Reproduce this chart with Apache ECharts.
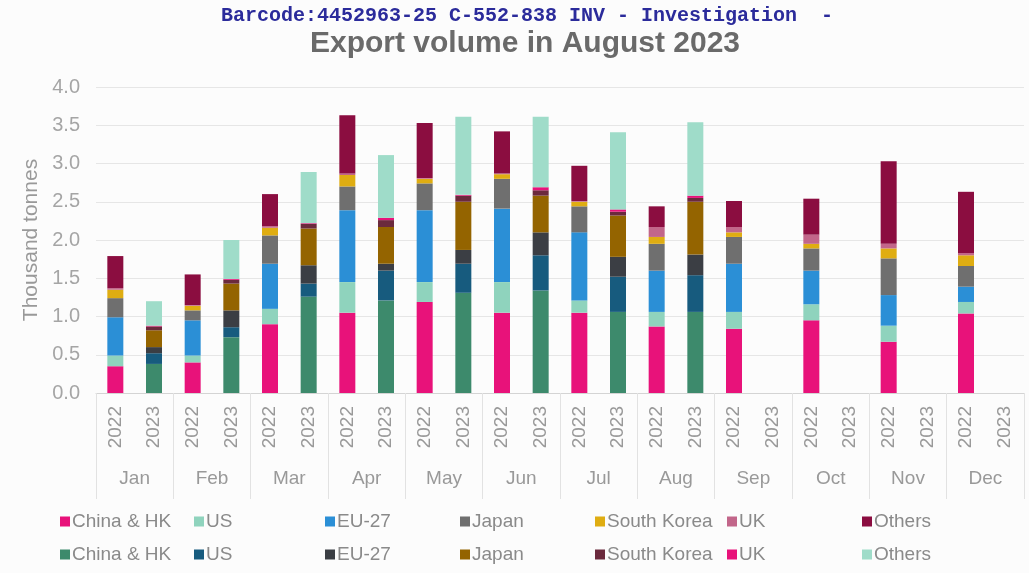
<!DOCTYPE html>
<html>
<head>
<meta charset="utf-8">
<title>Export volume in August 2023</title>
<script src="https://cdn.jsdelivr.net/npm/echarts@6/dist/echarts.min.js"></script>
<style>
    html, body { margin: 0; padding: 0; background: #fcfcfc; }
    #chart { width: 1029px; height: 573px; }
</style>
</head>
<body>
<div id="chart"></div>
<script>
var months = ['Jan', 'Feb', 'Mar', 'Apr', 'May', 'Jun', 'Jul', 'Aug', 'Sep', 'Oct', 'Nov', 'Dec']
var years = ['2022', '2023']
var countries = ['China & HK', 'US', 'EU-27', 'Japan', 'South Korea', 'UK', 'Others']
var yTicks = [0, 0.5, 1, 1.5, 2, 2.5, 3, 3.5, 4]

// thousand tonnes, one value per month
var china2022 = [0.35, 0.40, 0.90, 1.05, 1.19, 1.05, 1.05, 0.87, 0.84, 0.95, 0.67, 1.04]
var us2022 = [0.14, 0.09, 0.20, 0.40, 0.26, 0.40, 0.16, 0.19, 0.22, 0.21, 0.21, 0.15]
var eu2022 = [0.50, 0.46, 0.59, 0.94, 0.94, 0.96, 0.89, 0.54, 0.63, 0.44, 0.40, 0.20]
var japan2022 = [0.25, 0.13, 0.37, 0.31, 0.35, 0.39, 0.34, 0.35, 0.35, 0.29, 0.48, 0.27]
var korea2022 = [0.11, 0.06, 0.10, 0.15, 0.06, 0.06, 0.06, 0.09, 0.06, 0.06, 0.13, 0.14]
var uk2022 = [0.02, 0.01, 0.02, 0.02, 0.01, 0.01, 0.01, 0.13, 0.07, 0.12, 0.06, 0.03]
var others2022 = [0.42, 0.40, 0.42, 0.76, 0.72, 0.55, 0.46, 0.27, 0.34, 0.47, 1.08, 0.80]

var china2023 = [0.38, 0.73, 1.26, 1.21, 1.31, 1.34, 1.06, 1.06, null, null, null, null]
var us2023 = [0.14, 0.13, 0.17, 0.39, 0.38, 0.46, 0.46, 0.48, null, null, null, null]
var eu2023 = [0.08, 0.22, 0.24, 0.09, 0.18, 0.30, 0.26, 0.27, null, null, null, null]
var japan2023 = [0.22, 0.35, 0.48, 0.48, 0.63, 0.48, 0.54, 0.69, null, null, null, null]
var korea2023 = [0.05, 0.05, 0.06, 0.09, 0.08, 0.07, 0.05, 0.05, null, null, null, null]
var uk2023 = [0.01, 0.01, 0.01, 0.03, 0.01, 0.04, 0.03, 0.03, null, null, null, null]
var others2023 = [0.32, 0.51, 0.67, 0.82, 1.02, 0.92, 1.01, 0.96, null, null, null, null]

var values2022 = [china2022, us2022, eu2022, japan2022, korea2022, uk2022, others2022]
var values2023 = [china2023, us2023, eu2023, japan2023, korea2023, uk2023, others2023]
var colors2022 = ['#e8127a', '#8fd3bd', '#2b8fd6', '#6f6f6f', '#dfad12', '#c2668a', '#8b0d40']
var colors2023 = ['#3d8a6c', '#175b7e', '#3b3e44', '#946400', '#6b2a3d', '#e8127a', '#9fdcc9']

// one category per month and year: Jan 2022, Jan 2023, Feb 2022, ...
var yearLabels = []
months.forEach(function () {
    years.forEach(function (y) { yearLabels.push(y) })
})

function seriesName (country, year) {
    return country + ' (' + year + ')'
}

function buildSeries (values, colors, year, slot) {
    return values.map(function (arr, i) {
        var data = []
        arr.forEach(function (v) {
            if (slot === 0) {
                data.push(v, null)
            } else {
                data.push(null, v)
            }
        })
        return {
            name: seriesName(countries[i], year),
            type: 'bar',
            stack: 'total',
            barWidth: 16,
            itemStyle: { color: colors[i] },
            data: data
        }
    })
}

var series = buildSeries(values2022, colors2022, '2022', 0)
    .concat(buildSeries(values2023, colors2023, '2023', 1))

var legendLeft = [55, 189, 320, 455, 590, 722, 857]
var legends = countries.map(function (c, i) {
    return {
        orient: 'vertical',
        left: legendLeft[i],
        top: 507,
        itemWidth: 10,
        itemHeight: 10,
        itemGap: 14,
        icon: 'rect',
        selectedMode: false,
        data: [seriesName(c, '2022'), seriesName(c, '2023')],
        formatter: function (name) {
            return name.replace(/ \(\d+\)$/, '')
        },
        textStyle: { color: '#8a8a8a', fontSize: 19, fontFamily: 'Liberation Sans', padding: [0, 0, 0, -3] }
    }
})

var chart = echarts.init(document.getElementById('chart'))
chart.setOption({
    backgroundColor: '#fcfcfc',
    animation: false,
    title: [
        {
            text: 'Barcode:4452963-25 C-552-838 INV - Investigation  -',
            left: 522,
            top: 1,
            textAlign: 'center',
            textStyle: { color: '#2b2b9b', fontSize: 20, fontWeight: 'bold', fontFamily: 'Liberation Mono' }
        },
        {
            text: 'Export volume in August 2023',
            left: 520,
            top: 24,
            textAlign: 'center',
            textStyle: { color: '#6a6a6a', fontSize: 30, fontWeight: 'bold', fontFamily: 'Liberation Sans' }
        }
    ],
    legend: legends,
    grid: {
        left: 96,
        right: 5,
        top: 87,
        height: 306
    },
    xAxis: [
        {
            type: 'category',
            data: yearLabels,
            axisLine: { lineStyle: { color: '#d4d4d4' } },
            axisTick: { show: false },
            axisLabel: {
                rotate: 90,
                interval: 0,
                margin: 13,
                color: '#999',
                fontSize: 19,
                fontFamily: 'Liberation Sans'
            }
        },
        {
            type: 'category',
            data: months,
            position: 'bottom',
            axisLine: { show: false },
            axisTick: { show: true, interval: 0, length: 106, lineStyle: { color: '#e2e2e2' } },
            axisLabel: {
                interval: 0,
                margin: 76,
                color: '#999',
                fontSize: 19,
                fontFamily: 'Liberation Sans'
            }
        }
    ],
    yAxis: {
        type: 'value',
        min: yTicks[0],
        max: yTicks[yTicks.length - 1],
        interval: 0.5,
        name: 'Thousand tonnes',
        nameLocation: 'middle',
        nameGap: 49,
        nameTextStyle: { color: '#999', fontSize: 21, fontFamily: 'Liberation Sans' },
        axisLine: { show: false },
        axisTick: { show: false },
        axisLabel: {
            color: '#a5a5a5',
            fontSize: 20,
            margin: 16,
            fontFamily: 'Liberation Sans',
            formatter: function (v) { return v.toFixed(1) }
        },
        splitLine: { lineStyle: { color: '#e6e6e6' } }
    },
    series: series
})
</script>
</body>
</html>
